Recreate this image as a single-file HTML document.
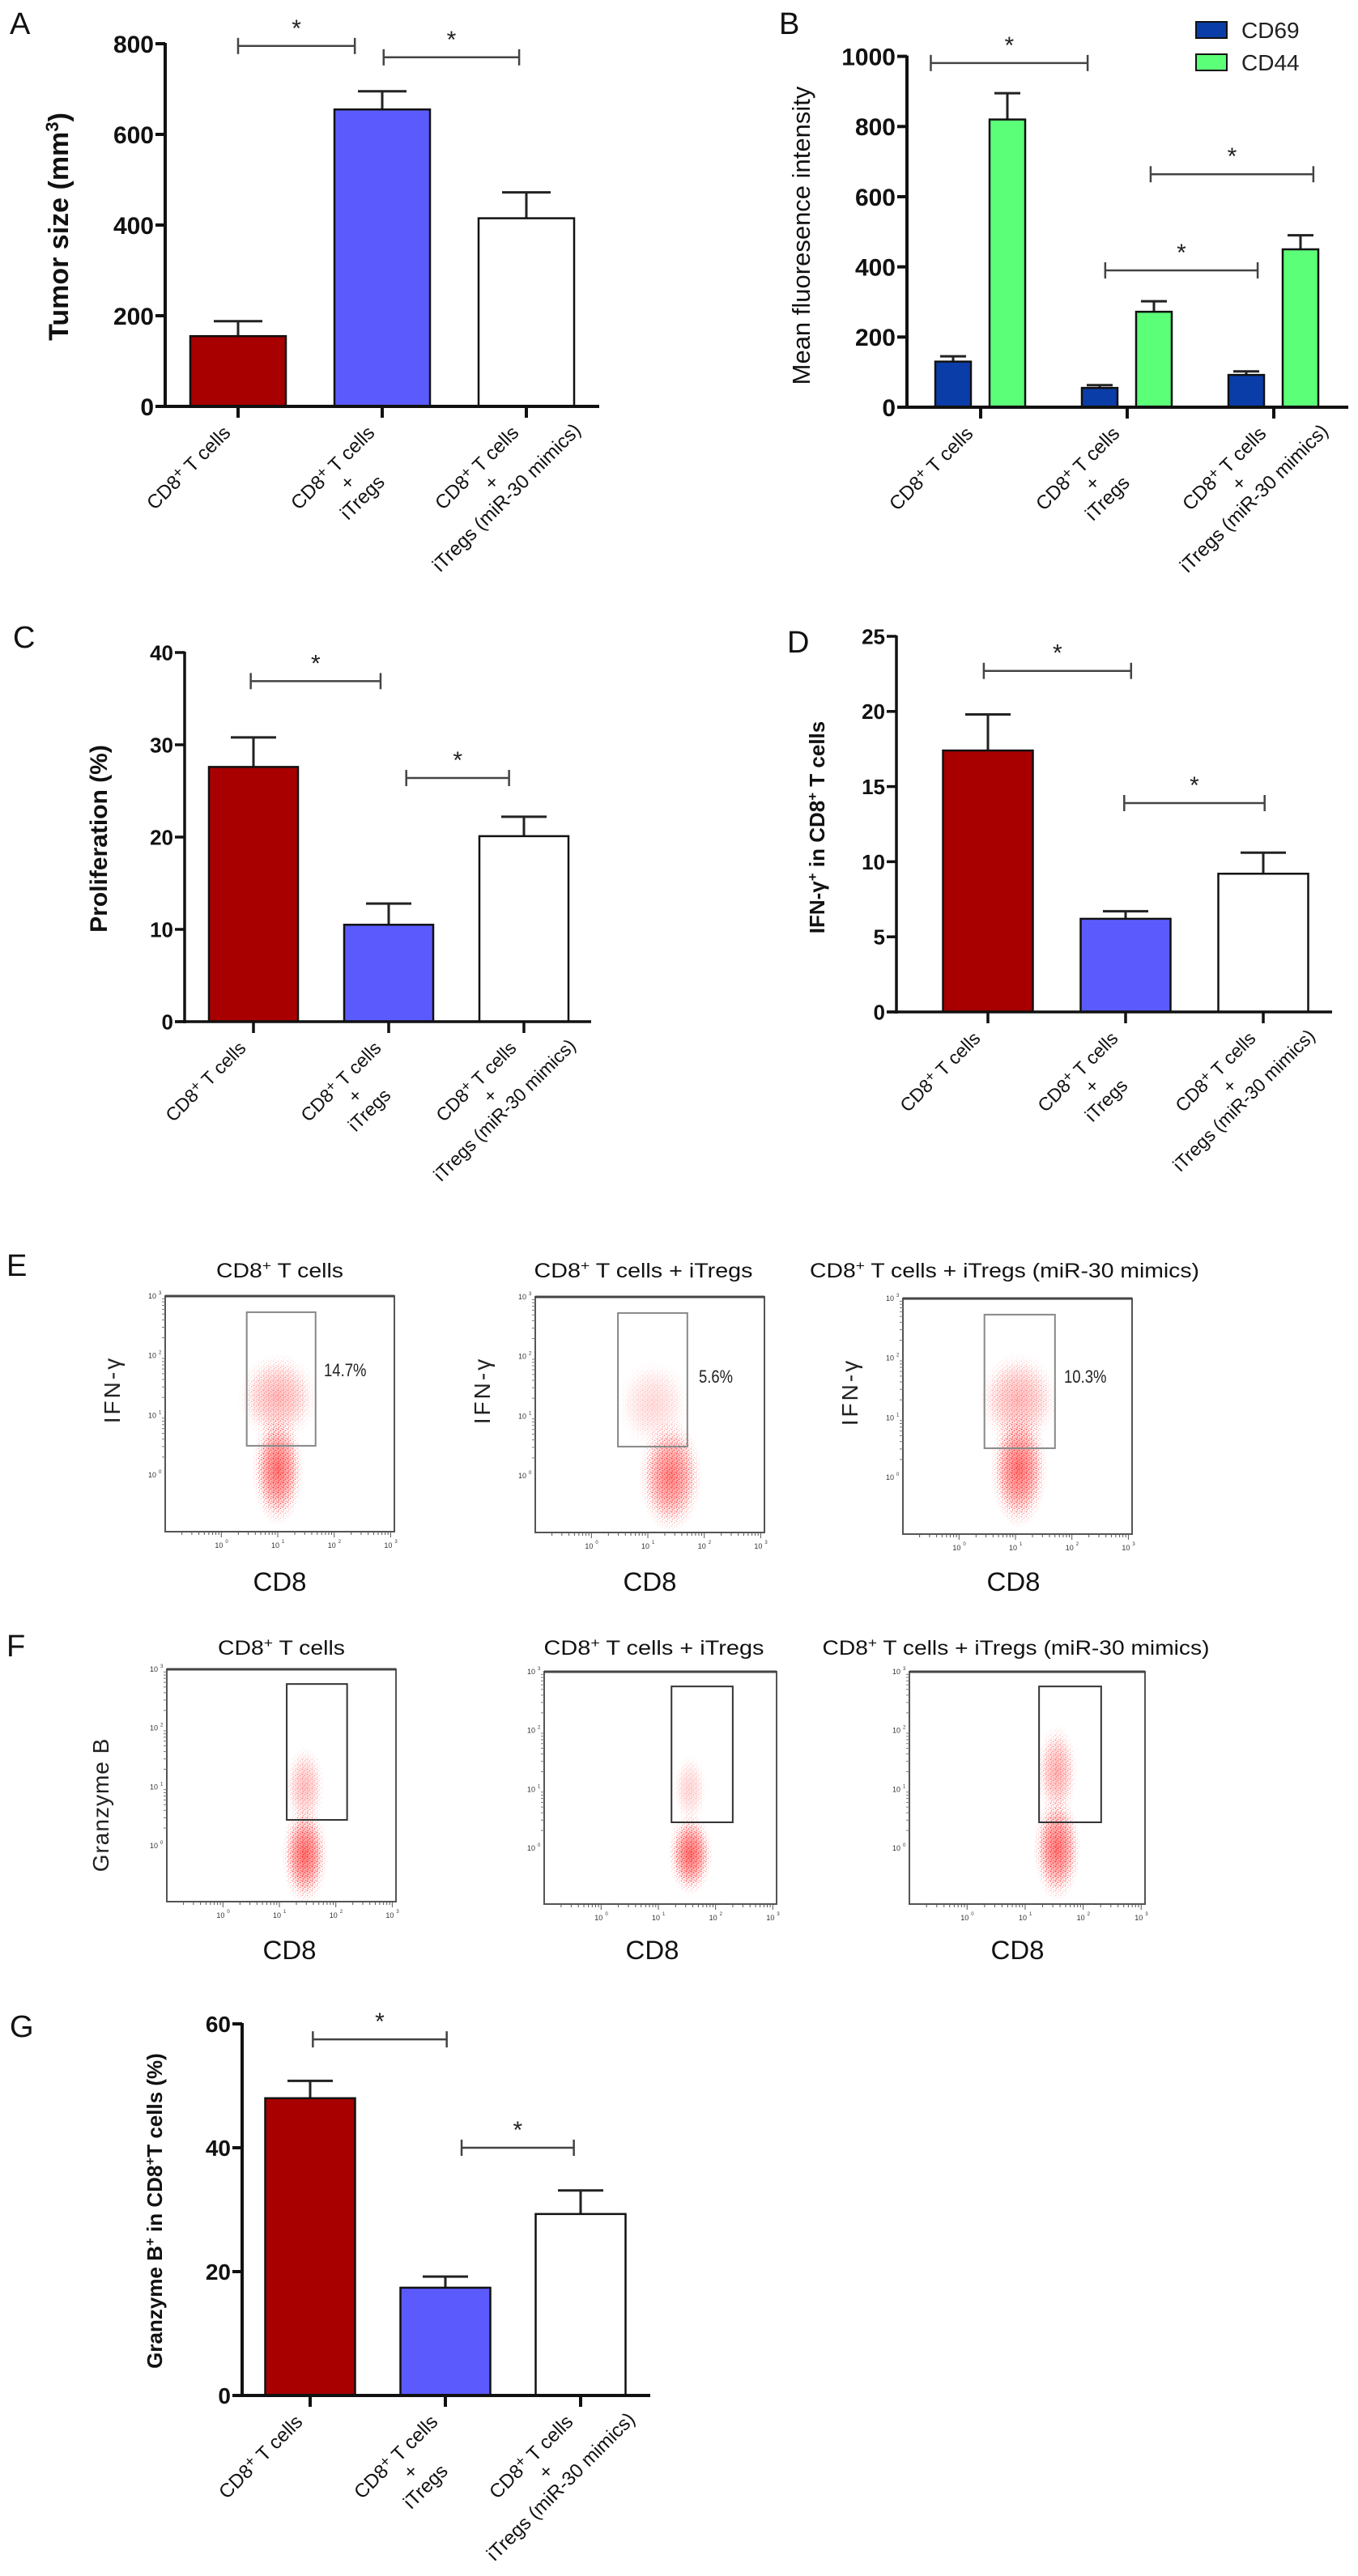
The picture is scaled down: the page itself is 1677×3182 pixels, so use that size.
<!DOCTYPE html>
<html><head><meta charset="utf-8"><title>Figure</title>
<style>
html,body{margin:0;padding:0;background:#fff;}
svg{display:block;font-family:"Liberation Sans",Arial,sans-serif;}
</style></head>
<body>
<svg id="fig" width="1677" height="3182" viewBox="0 0 1677 3182" xmlns="http://www.w3.org/2000/svg">
<defs>
<radialGradient id="rg" cx="50%" cy="50%" r="50%">
<stop offset="0%" stop-color="#ff0000" stop-opacity="1"/>
<stop offset="55%" stop-color="#ff1010" stop-opacity="0.6"/>
<stop offset="100%" stop-color="#ff4040" stop-opacity="0"/>
</radialGradient>
<radialGradient id="rgMask" cx="50%" cy="50%" r="50%">
<stop offset="0%" stop-color="#fff" stop-opacity="1"/>
<stop offset="65%" stop-color="#fff" stop-opacity="0.75"/>
<stop offset="100%" stop-color="#fff" stop-opacity="0"/>
</radialGradient>
<pattern id="dots" width="6" height="6" patternUnits="userSpaceOnUse">
<circle cx="1.5" cy="1.5" r="0.9" fill="#ff1a1a"/>
<circle cx="4.5" cy="3.2" r="0.8" fill="#ff3030"/>
<circle cx="2.4" cy="5.0" r="0.7" fill="#ff2020"/>
<circle cx="5.4" cy="0.4" r="0.6" fill="#ff4040"/>
</pattern>
</defs>
</svg>
<script>
// ===== Data =====
const categories = ["CD8+ T cells", "CD8+ T cells + iTregs", "CD8+ T cells + iTregs (miR-30 mimics)"];
const tumorValues = [155, 655, 415];
const tumorSem = [33, 40, 57];
const tumorTicks = [0, 200, 400, 600, 800];
const cd69Values = [130, 55, 92];
const cd69Sem = [15, 8, 10];
const cd44Values = [820, 272, 450];
const cd44Sem = [75, 30, 40];
const mfiTicks = [0, 200, 400, 600, 800, 1000];
const prolifValues = [27.6, 10.5, 20.1];
const prolifSem = [3.2, 2.3, 2.1];
const prolifTicks = [0, 10, 20, 30, 40];
const ifnValues = [17.4, 6.2, 9.2];
const ifnSem = [2.4, 0.5, 1.4];
const ifnTicks = [0, 5, 10, 15, 20, 25];
const gzmValues = [48, 17.4, 29.3];
const gzmSem = [2.8, 1.8, 3.8];
const gzmTicks = [0, 20, 40, 60];
const ifnGatePercents = ["14.7%", "5.6%", "10.3%"];

const NS = "http://www.w3.org/2000/svg";
const svg = document.getElementById("fig");
const barColors = ["#a80000", "#5b5bfd", "#ffffff"];

function el(tag, attrs, parent) {
  const e = document.createElementNS(NS, tag);
  for (const k in attrs) e.setAttribute(k, attrs[k]);
  (parent || svg).appendChild(e);
  return e;
}
function txt(str, attrs, parent) {
  const t = el("text", attrs, parent);
  t.textContent = str;
  return t;
}
function panelLetter(ch, x, y) {
  const t = txt(ch, {x: x, y: y, "font-size": 38, fill: "#111"});
  
  
}
function catLabel(g, x, y, lines, fs) {
  const grp = el("g", {transform: "translate(" + x + "," + y + ") rotate(-45)"}, g);
  
  
  let half = 0;
  lines.forEach((ln, i) => {
    const t = el("text", {x: 0, y: i * fs * 1.08, "font-size": fs, "text-anchor": "middle", fill: "#111"}, grp);
    if (ln.indexOf("CD8+") === 0) {
      t.appendChild(document.createTextNode("CD8"));
      const s = el("tspan", {dy: -fs * 0.3, "font-size": fs * 0.8}, t); s.textContent = "+";
      const r = el("tspan", {dy: fs * 0.3}, t); r.textContent = ln.slice(4);
    } else t.textContent = ln;
    if (i === 0) half = t.getComputedTextLength() / 2;
  });
  Array.from(grp.children).forEach(t => t.setAttribute("x", -half));
}
function splitCat(c) {
  if (c === categories[0]) return ["CD8+ T cells"];
  if (c === categories[1]) return ["CD8+ T cells", "+", "iTregs"];
  return ["CD8+ T cells", "+", "iTregs (miR-30 mimics)"];
}

function barChart(cfg) {
  const g = el("g", {});
  
  
  const yS = v => cfg.y0 - v * (cfg.y0 - cfg.yTop) / cfg.yMax;
  const xS = i => cfg.x0c + i * cfg.step;
  cfg.series.forEach((s) => {
    s.values.forEach((v, i) => {
      const cx = xS(i) + s.offset;
      const top = yS(v), errTop = yS(v + s.sem[i]);
      const eb = el("line", {x1: cx, x2: cx, y1: top, y2: errTop, stroke: "#222", "stroke-width": 3}, g);
      
      
      const cap = el("line", {x1: cx - cfg.cap, x2: cx + cfg.cap, y1: errTop, y2: errTop, stroke: "#222", "stroke-width": 3}, g);
      
      
      const r = el("rect", {x: cx - s.width / 2, y: top, width: s.width, height: cfg.y0 - top, fill: s.colors[i], stroke: "#111", "stroke-width": 2.5}, g);
      
      
    });
  });
  const ya = el("line", {x1: cfg.xAxis, x2: cfg.xAxis, y1: cfg.y0 + 2, y2: yS(cfg.yMax) - 1, stroke: "#111", "stroke-width": cfg.aw}, g);
  
  
  const xa = el("line", {x1: cfg.xAxis - 12, x2: cfg.xEnd, y1: cfg.y0, y2: cfg.y0, stroke: "#111", "stroke-width": cfg.aw}, g);
  
  
  cfg.ticks.forEach(t => {
    const y = yS(t);
    el("line", {x1: cfg.xAxis - 12, x2: cfg.xAxis, y1: y, y2: y, stroke: "#111", "stroke-width": cfg.aw}, g);
    const tl = txt(String(t), {x: cfg.xAxis - 14, y: y + cfg.tfs * 0.36, "font-size": cfg.tfs, "font-weight": "bold", "text-anchor": "end", fill: "#111"}, g);
    
    
  });
  categories.forEach((c, i) => {
    const x = xS(i);
    el("line", {x1: x, x2: x, y1: cfg.y0, y2: cfg.y0 + 14, stroke: "#111", "stroke-width": cfg.aw}, g);
    catLabel(g, x - 8, cfg.y0 + 34, splitCat(c), cfg.cfs);
  });
  cfg.brackets.forEach(b => {
    const x1 = xS(b[0]), x2 = xS(b[1]), y = yS(b[2]);
    const bg = el("g", {stroke: "#444", "stroke-width": 2.5}, g);
    
    
    el("line", {x1: x1, x2: x2, y1: y, y2: y}, bg);
    el("line", {x1: x1, x2: x1, y1: y - 10, y2: y + 10}, bg);
    el("line", {x1: x2, x2: x2, y1: y - 10, y2: y + 10}, bg);
    const st = txt("*", {x: (x1 + x2) / 2, y: y - 12, "font-size": 30, "text-anchor": "middle", fill: "#222"}, g);
    
    
  });
  const yt = el("text", {transform: "translate(" + cfg.ytx + "," + cfg.yty + ") rotate(-90)", "text-anchor": "middle", "font-size": cfg.yfs, "font-weight": cfg.ybold ? "bold" : "normal", fill: "#111"}, g);
  
  
  cfg.ytitle.forEach(p => {
    if (p.sup) { const s = el("tspan", {dy: -cfg.yfs * 0.35, "font-size": cfg.yfs * 0.65}, yt); s.textContent = p.t; const r = el("tspan", {dy: cfg.yfs * 0.35}, yt); r.textContent = "\u200b"; }
    else { const s = el("tspan", {}, yt); s.textContent = p.t; }
  });
  return g;
}

panelLetter("A", 12, 42);
barChart({name: "chart-a-tumor-size", x0c: 294, step: 178, y0: 502, yTop: 54, yMax: 800, xAxis: 204, xEnd: 740, aw: 4, cap: 30,
  series: [{key: "tumor", values: tumorValues, sem: tumorSem, offset: 0, width: 118, colors: barColors}],
  ticks: tumorTicks, tfs: 30, cfs: 24,
  brackets: [[0, 0.81, 795], [1.01, 1.95, 770]],
  ytx: 84, yty: 280, yfs: 34, ybold: true, ytitle: [{t: "Tumor size (mm"}, {t: "3", sup: true}, {t: ")"}]});

panelLetter("B", 962, 42);
barChart({name: "chart-b-mfi", x0c: 1211, step: 181, y0: 503, yTop: 69.6, yMax: 1000, xAxis: 1120, xEnd: 1665, aw: 4, cap: 16,
  series: [
    {key: "cd69", values: cd69Values, sem: cd69Sem, offset: -34, width: 44, colors: ["#0b3da8", "#0b3da8", "#0b3da8"]},
    {key: "cd44", values: cd44Values, sem: cd44Sem, offset: 33, width: 44, colors: ["#5cff78", "#5cff78", "#5cff78"]}],
  ticks: mfiTicks, tfs: 30, cfs: 24,
  brackets: [[-0.34, 0.73, 981], [1.16, 2.27, 664], [0.85, 1.89, 390]],
  ytx: 1000, yty: 291, yfs: 31, ybold: false, ytitle: [{t: "Mean fluoresence intensity"}]});
(function(){
  const lg = el("g", {});
  
  
  const e1 = el("rect", {x: 1477, y: 27, width: 38, height: 20, fill: "#0b3da8", stroke: "#111", "stroke-width": 2}, lg);
  
  
  txt("CD69", {x: 1533, y: 47, "font-size": 28, fill: "#222"}, lg);
  const e2 = el("rect", {x: 1477, y: 67, width: 38, height: 20, fill: "#5cff78", stroke: "#111", "stroke-width": 2}, lg);
  
  
  txt("CD44", {x: 1533, y: 87, "font-size": 28, fill: "#222"}, lg);
})();

panelLetter("C", 16, 800);
barChart({name: "chart-c-proliferation", x0c: 313, step: 167, y0: 1262, yTop: 806, yMax: 40, xAxis: 228, xEnd: 730, aw: 3.5, cap: 28,
  series: [{key: "prolif", values: prolifValues, sem: prolifSem, offset: 0, width: 110, colors: barColors}],
  ticks: prolifTicks, tfs: 26, cfs: 23,
  brackets: [[-0.02, 0.94, 36.9], [1.13, 1.89, 26.4]],
  ytx: 132, yty: 1036, yfs: 30, ybold: true, ytitle: [{t: "Proliferation (%)"}]});

panelLetter("D", 972, 806);
barChart({name: "chart-d-ifn", x0c: 1220, step: 170, y0: 1250, yTop: 786, yMax: 25, xAxis: 1107, xEnd: 1645, aw: 3.5, cap: 28,
  series: [{key: "ifn", values: ifnValues, sem: ifnSem, offset: 0, width: 111, colors: barColors}],
  ticks: ifnTicks, tfs: 26, cfs: 23,
  brackets: [[-0.03, 1.04, 22.7], [0.99, 2.01, 13.9]],
  ytx: 1018, yty: 1022, yfs: 26, ybold: true, ytitle: [{t: "IFN-γ"}, {t: "+", sup: true}, {t: " in CD8"}, {t: "+", sup: true}, {t: " T cells"}]});

panelLetter("G", 12, 2516);
barChart({name: "chart-g-granzyme", x0c: 383, step: 167, y0: 2959, yTop: 2500, yMax: 60, xAxis: 299, xEnd: 803, aw: 4, cap: 28,
  series: [{key: "gzm", values: gzmValues, sem: gzmSem, offset: 0, width: 111, colors: barColors}],
  ticks: gzmTicks, tfs: 28, cfs: 24,
  brackets: [[0.02, 1.01, 57.5], [1.12, 1.95, 40]],
  ytx: 200, yty: 2731, yfs: 26, ybold: true, ytitle: [{t: "Granzyme B"}, {t: "+", sup: true}, {t: " in CD8"}, {t: "+", sup: true}, {t: "T cells (%)"}]});

// ===== Flow plots =====
// populations: [xDecade, yDecade, rxDecade, ryDecade, opacity]
const ifnPops = [
  [[1.0, 0.1, 0.45, 0.95, 0.95], [1.0, 1.3, 0.7, 0.75, 0.45]],
  [[1.4, 0.0, 0.55, 0.95, 0.85], [1.1, 1.2, 0.65, 0.75, 0.22]],
  [[1.06, 0.15, 0.5, 1.0, 0.95], [1.05, 1.3, 0.7, 0.8, 0.45]]];
const gzmPops = [
  [[1.45, -0.15, 0.4, 0.85, 1.0], [1.45, 1.0, 0.35, 0.7, 0.4]],
  [[1.56, -0.1, 0.38, 0.7, 1.0], [1.55, 1.0, 0.3, 0.6, 0.25]],
  [[1.55, 0.0, 0.4, 0.9, 0.95], [1.55, 1.3, 0.35, 0.8, 0.5]]];
const ifnGates = [[0.45, 1.67, 0.49, 2.73], [0.47, 1.70, 0.49, 2.73], [0.45, 1.70, 0.49, 2.73]];
const gzmGates = [[1.13, 2.2, 0.44, 2.75], [1.23, 2.3, 0.44, 2.75], [1.24, 2.31, 0.44, 2.75]];
const flowTitles = ["CD8+ T cells", "CD8+ T cells + iTregs", "CD8+ T cells + iTregs (miR-30 mimics)"];

let maskCount = 0;
function flowPlot(o) {
  const g = el("g", {});
  
  
  const dx = o.w / 4, dy = o.h / 3.95;
  const X = d => o.x + o.w * 0.245 + d * dx * 0.985;
  const Y = d => o.y + (3 - d) * dy;
  const cid = "clip" + o.name;
  const cp = el("clipPath", {id: cid}, g);
  el("rect", {x: o.x, y: o.y, width: o.w, height: o.h}, cp);
  const dg = el("g", {"clip-path": "url(#" + cid + ")"}, g);
  o.pops.forEach(p => {
    const cx = X(p[0]), cy = Y(p[1]), rx = p[2] * dx, ry = p[3] * dy;
    const core = el("ellipse", {cx: cx, cy: cy, rx: rx * 0.8, ry: ry * 0.8, fill: "url(#rg)", opacity: p[4] * 0.55}, dg);
    
    
    const mid = "m" + (maskCount++);
    const m = el("mask", {id: mid, maskUnits: "userSpaceOnUse", x: cx - rx, y: cy - ry, width: 2 * rx, height: 2 * ry}, dg);
    el("ellipse", {cx: cx, cy: cy, rx: rx, ry: ry, fill: "url(#rgMask)"}, m);
    const dots = el("rect", {x: cx - rx, y: cy - ry, width: 2 * rx, height: 2 * ry, fill: "url(#dots)", mask: "url(#" + mid + ")", opacity: Math.min(1, p[4] * 1.1)}, dg);
    
    
  });
  const box = el("rect", {x: o.x, y: o.y, width: o.w, height: o.h, fill: "none", stroke: "#555", "stroke-width": 2}, g);
  
  
  el("line", {x1: o.x, x2: o.x + o.w, y1: o.y, y2: o.y, stroke: "#444", "stroke-width": 3}, g);
  const gt = o.gate;
  const gr = el("rect", {x: X(gt[0]), y: Y(gt[3]), width: X(gt[1]) - X(gt[0]), height: Y(gt[2]) - Y(gt[3]), fill: "none", stroke: o.gateColor, "stroke-width": 2}, g);
  
  
  for (let d = 0; d <= 3; d++) {
    txt("10", {x: X(d) - 3, y: o.y + o.h + 20, "font-size": 9, "text-anchor": "middle", fill: "#333"}, g);
    txt(String(d), {x: X(d) + 5, y: o.y + o.h + 14, "font-size": 6, fill: "#333"}, g);
    txt("10", {x: o.x - 16, y: Y(d) + 3, "font-size": 9, "text-anchor": "middle", fill: "#333"}, g);
    txt(String(d), {x: o.x - 8, y: Y(d) - 2, "font-size": 6, fill: "#333"}, g);
    if (d < 3) for (let m = 2; m <= 9; m++) {
      const xx = X(d + Math.log10(m));
      el("line", {x1: xx, x2: xx, y1: o.y + o.h, y2: o.y + o.h + 4, stroke: "#555", "stroke-width": 1}, g);
      const yy = Y(d + Math.log10(m));
      el("line", {x1: o.x - 4, x2: o.x, y1: yy, y2: yy, stroke: "#777", "stroke-width": 1}, g);
    }
    el("line", {x1: X(d), x2: X(d), y1: o.y + o.h, y2: o.y + o.h + 7, stroke: "#555", "stroke-width": 1}, g);
  }
  for (let m = 2; m <= 9; m++) {
    const xx = X(-1 + Math.log10(m));
    el("line", {x1: xx, x2: xx, y1: o.y + o.h, y2: o.y + o.h + 4, stroke: "#555", "stroke-width": 1}, g);
  }
  const t = el("text", {x: o.x + o.w / 2 + o.tOff, y: o.ty, "font-size": 25, "text-anchor": "middle", fill: "#111", textLength: o.tLen, lengthAdjust: "spacingAndGlyphs"}, g);
  
  
  t.appendChild(document.createTextNode("CD8"));
  const s = el("tspan", {dy: -9, "font-size": 17}, t); s.textContent = "+";
  const r = el("tspan", {dy: 9}, t); r.textContent = o.title.slice(4);
  const xl = txt("CD8", {x: o.x + o.w / 2 + o.xlOff, y: o.xly, "font-size": 32, "text-anchor": "middle", fill: "#111", textLength: 66, lengthAdjust: "spacingAndGlyphs"}, g);
  
  
  if (o.ylabel) {
    const yl = txt(o.ylabel, {transform: "translate(" + o.ylx + "," + (o.y + o.h / 2 + o.ylyOff) + ") rotate(-90)", "font-size": 28, "text-anchor": "middle", fill: "#222", "letter-spacing": o.ls}, g);
    
    
  }
  if (o.pct) {
    const pt = txt(o.pct, {x: o.pctx, y: o.pcty, "font-size": 22, fill: "#222", textLength: o.pct.length * 10.5, lengthAdjust: "spacingAndGlyphs"}, g);
    
    
  }
}

panelLetter("E", 8, 1576);
const eX = [204, 661, 1115], eY = [1601, 1602, 1604];
const tLens = [157, 270, 481];
const tOffs = [0, -8, -4];
for (let i = 0; i < 3; i++) {
  flowPlot({name: "flow-e-" + (i + 1), x: eX[i], y: eY[i], w: 283, h: 291, pops: ifnPops[i], gate: ifnGates[i], gateColor: "#888",
    title: flowTitles[i], ty: 1578, tOff: tOffs[i] + (i === 2 ? -12 : 0), tLen: tLens[i], xly: 1965, xlOff: (i === 2 ? -5 : 0),
    ylabel: "IFN-γ", ylx: eX[i] - 56, ylyOff: -30, ls: 3,
    pct: ifnGatePercents[i], pctx: [400, 863, 1314][i], pcty: [1700, 1708, 1708][i]});
}
panelLetter("F", 8, 2046);
const fX = [206, 672, 1123], fY = [2062, 2065, 2065], fW = [283, 287, 291];
for (let i = 0; i < 3; i++) {
  flowPlot({name: "flow-f-" + (i + 1), x: fX[i], y: fY[i], w: fW[i], h: 287, pops: gzmPops[i], gate: gzmGates[i], gateColor: "#333",
    title: flowTitles[i], ty: 2044, tOff: tOffs[i] + (i === 2 ? -10 : 0), tLen: [157, 272, 478][i], xly: 2420, xlOff: [10, -10, -12][i],
    ylabel: i === 0 ? "Granzyme B" : null, ylx: 134, ylyOff: 24, ls: 1});
}
</script>
</body></html>
